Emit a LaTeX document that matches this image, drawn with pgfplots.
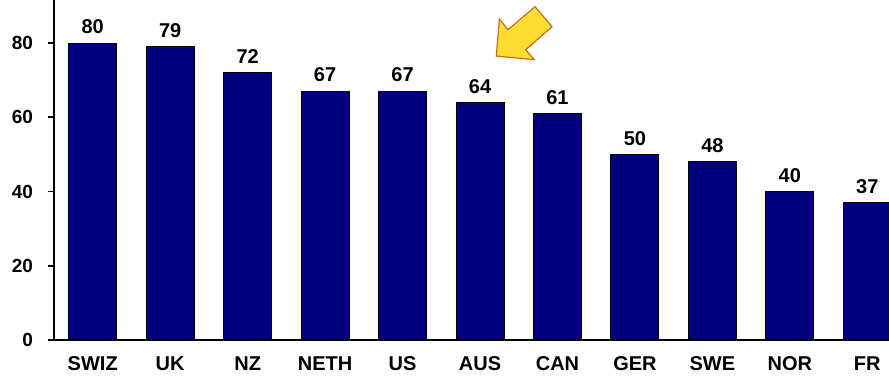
\documentclass[border=0pt]{standalone}
\usepackage{pgfplots}
\pgfplotsset{compat=1.18}
\usepackage{fontspec}
\setmainfont{Liberation Sans}
\definecolor{navybar}{RGB}{0,0,128}
\definecolor{arrowfill}{RGB}{255,221,51}
\definecolor{arrowedge}{RGB}{200,110,30}
\begin{document}
\begin{tikzpicture}
\useasboundingbox (-27pt,-19pt) rectangle (417.5pt,170pt);
\begin{axis}[
  scale only axis, width=417.5pt, height=170pt,
  xmin=-0.5, xmax=10.28, ymin=0, ymax=91.6,
  axis x line*=bottom, axis y line*=left,
  axis line style={line width=0.9pt},
  clip=false,
  xtick={0,...,10},
  xticklabels={SWIZ,UK,NZ,NETH,US,AUS,CAN,GER,SWE,NOR,FR},
  x tick style={draw=none},
  extra x ticks={-0.5,0.5,...,9.5},
  extra x tick labels={},
  extra x tick style={tick style={draw=black, line width=0.9pt}, major tick length=4pt},
  ytick={0,20,40,60,80},
  y tick style={draw=black, line width=0.8pt},
  tick align=outside,
  major tick length=3pt,
  xticklabel style={font=\bfseries\fontsize{10}{12}\selectfont, text height=7.5pt, text depth=0pt, yshift=-1pt},
  yticklabel style={font=\bfseries\fontsize{9.5}{11}\selectfont, xshift=-4pt},
  /pgf/number format/assume math mode=true,
]
\addplot[ybar, bar width=0.62, fill=navybar, draw=black, line width=0.5pt,
  nodes near coords,
  every node near coord/.append style={font=\bfseries\fontsize{10}{12}\selectfont, black, yshift=1pt}]
  coordinates {(0,80) (1,79) (2,72) (3,67) (4,67) (5,64) (6,61) (7,50) (8,48) (9,40) (10,37)};
\draw[fill=arrowfill, draw=arrowedge, line width=0.6pt]
  (axis cs:5.21,76.5) -- (axis cs:5.25,86.5) -- (axis cs:5.36,83.6) -- (axis cs:5.71,89.8)
  -- (axis cs:5.93,84.4) -- (axis cs:5.59,78.2) -- (axis cs:5.70,75.5) -- cycle;
\end{axis}
\end{tikzpicture}
\end{document}
